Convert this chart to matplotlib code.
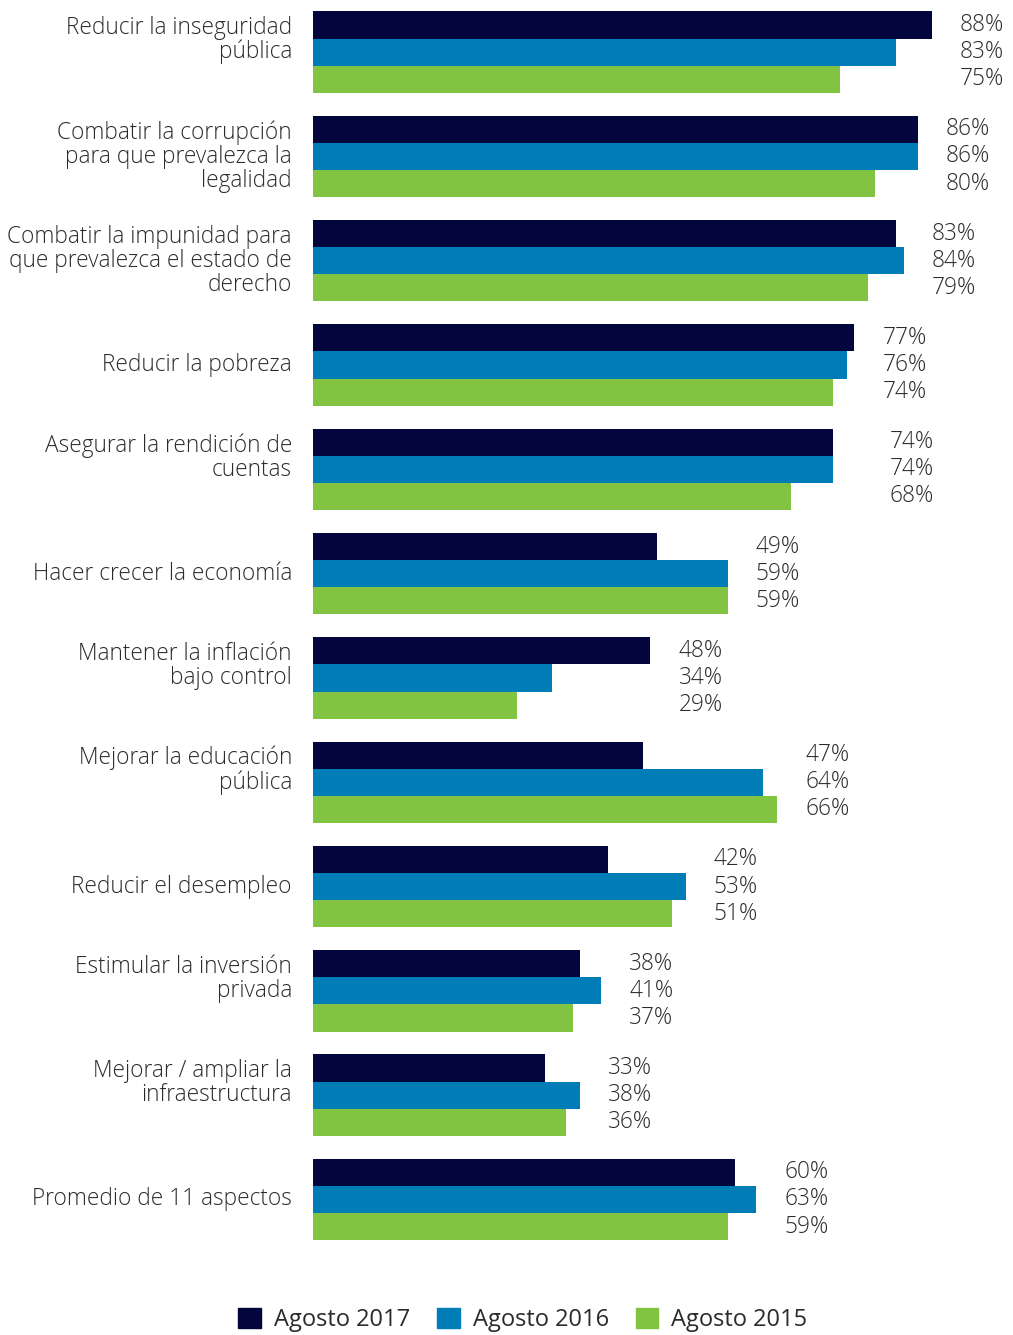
import matplotlib.pyplot as plt
import numpy as np

categories = [
    'Reducir la inseguridad\npública',
    'Combatir la corrupción\npara que prevalezca la\nlegalidad',
    'Combatir la impunidad para\nque prevalezca el estado de\nderecho',
    'Reducir la pobreza',
    'Asegurar la rendición de\ncuentas',
    'Hacer crecer la economía',
    'Mantener la inflación\nbajo control',
    'Mejorar la educación\npública',
    'Reducir el desempleo',
    'Estimular la inversión\nprivada',
    'Mejorar / ampliar la\ninfraestructura',
    'Promedio de 11 aspectos',
]
ago_2017 = [88, 86, 83, 77, 74, 49, 48, 47, 42, 38, 33, 60]
ago_2016 = [83, 86, 84, 76, 74, 59, 34, 64, 53, 41, 38, 63]
ago_2015 = [75, 80, 79, 74, 68, 59, 29, 66, 51, 37, 36, 59]
series_names = ['Agosto 2017', 'Agosto 2016', 'Agosto 2015']
colors = ['#03063d', '#007cb7', '#82c341']

plt.rcParams['font.family'] = ['Open Sans', 'DejaVu Sans']
txt_color = '#2b2b2b'
fs = 16.3

pitch = 104.3  # px per group
fig = plt.figure(figsize=(10.13, 13.35), dpi=100)
ax = fig.add_axes([313 / 1013, 1 - 1250 / 1335, 700 / 1013, 1250 / 1335])

series = [ago_2017, ago_2016, ago_2015]
y = np.arange(len(categories))
h = 0.26
for j, vals in enumerate(series):
    ax.barh(y + (j - 1) * h, vals, height=h, color=colors[j], label=series_names[j])

# label gap after the longest bar (group 5 sits further out in the original)
gap = [4] * len(categories)
gap[4] = 8
for i in range(len(categories)):
    m = max(s[i] for s in series)
    for j, s in enumerate(series):
        ax.text(m + gap[i], i + (j - 1) * h, '%d%%' % s[i], va='center', ha='left',
                fontsize=fs, color=txt_color, fontweight='light')
    lab = categories[i]
    if lab.count('\n') == 1:
        lab = lab + '\n '
    ax.text(-3, i, lab, ha='right', va='center', fontsize=fs, color=txt_color,
            fontweight='light', linespacing=1.0)

ax.set_xlim(0, 700 / 7.03)
ax.set_ylim(-0.5 + 1250 / pitch, -0.5)
ax.axis('off')

handles = [plt.Rectangle((0, 0), 1, 1, color=c) for c in colors]
fig.legend(handles, series_names, loc='center', bbox_to_anchor=(523 / 1013, 1 - 1320 / 1335),
           ncol=3, frameon=False, fontsize=17, handlelength=0.95, handleheight=0.95,
           columnspacing=1.15, handletextpad=0.55, labelcolor=txt_color)

fig.savefig('out.png', dpi=100)
